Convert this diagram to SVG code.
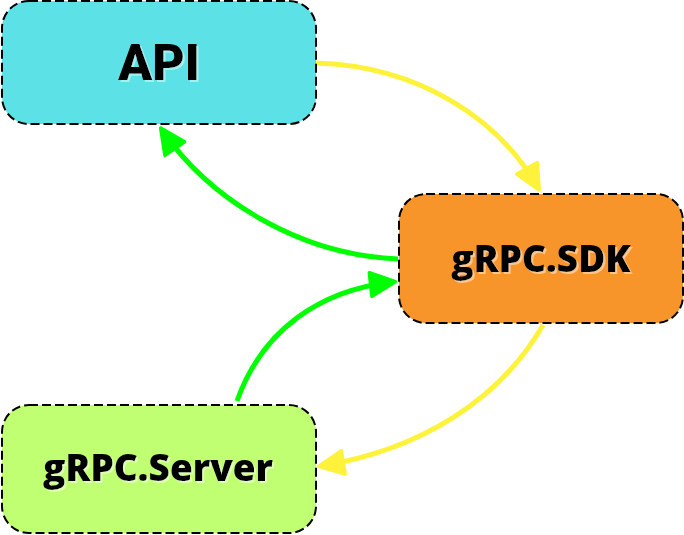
<svg xmlns="http://www.w3.org/2000/svg" width="684" height="535" viewBox="0 0 684 535">
<style>
.box{stroke:#000;stroke-width:2;stroke-dasharray:9 4}
.lbl{font-family:"Open Sans","Noto Sans",sans-serif;font-weight:800;text-anchor:middle;fill:#000;filter:url(#sh)}
.api{font-family:Roboto,Inter,"Liberation Sans",sans-serif;font-weight:900;text-anchor:middle;fill:#000;filter:url(#sh)}
.y{fill:none;stroke:#FFF23A;stroke-width:5}
.g{fill:none;stroke:#00FF00;stroke-width:5}
</style>
<defs>
<filter id="sh" x="-10%" y="-20%" width="120%" height="140%">
<feDropShadow dx="2" dy="2" stdDeviation="0.3" flood-color="#fff" flood-opacity="0.45"/>
</filter>
<marker id="ay" markerUnits="userSpaceOnUse" markerWidth="32" markerHeight="32" viewBox="-3 -3 27 26" refX="19" refY="10" orient="auto">
<path d="M0,0 L21,10 L0,20 z" fill="#FFF23A" stroke="#FFF23A" stroke-width="3" stroke-linejoin="round"/>
</marker>
<marker id="ag" markerUnits="userSpaceOnUse" markerWidth="32" markerHeight="32" viewBox="-3 -3 27 26" refX="19" refY="10" orient="auto">
<path d="M0,0 L21,10 L0,20 z" fill="#00FF00" stroke="#00FF00" stroke-width="3" stroke-linejoin="round"/>
</marker>
</defs>
<g id="connectors">
<path class="y" d="M316,63 C420,66 500,120 538,188" marker-end="url(#ay)"/>
<path class="g" d="M398,259 C300,255 210,200 162,130" marker-end="url(#ag)"/>
<path class="g" d="M237,401 C262,330 320,290 393,282" marker-end="url(#ag)"/>
<path class="y" d="M543,325 C500,400 420,450 321,466" marker-end="url(#ay)"/>
</g>
<g id="api">
<rect class="box" x="2" y="1" width="314" height="123" rx="27" fill="#5CE1E6"/>
<text class="api" x="159" y="80" font-size="50">API</text>
</g>
<g id="sdk">
<rect class="box" x="399" y="194" width="284" height="129" rx="27" fill="#F7952B"/>
<text class="lbl" x="541" y="272" font-size="37">gRPC.SDK</text>
</g>
<g id="server">
<rect class="box" x="2" y="405" width="314" height="128" rx="27" fill="#C1FF72"/>
<text class="lbl" x="158" y="481" font-size="37">gRPC.Server</text>
</g>
</svg>
